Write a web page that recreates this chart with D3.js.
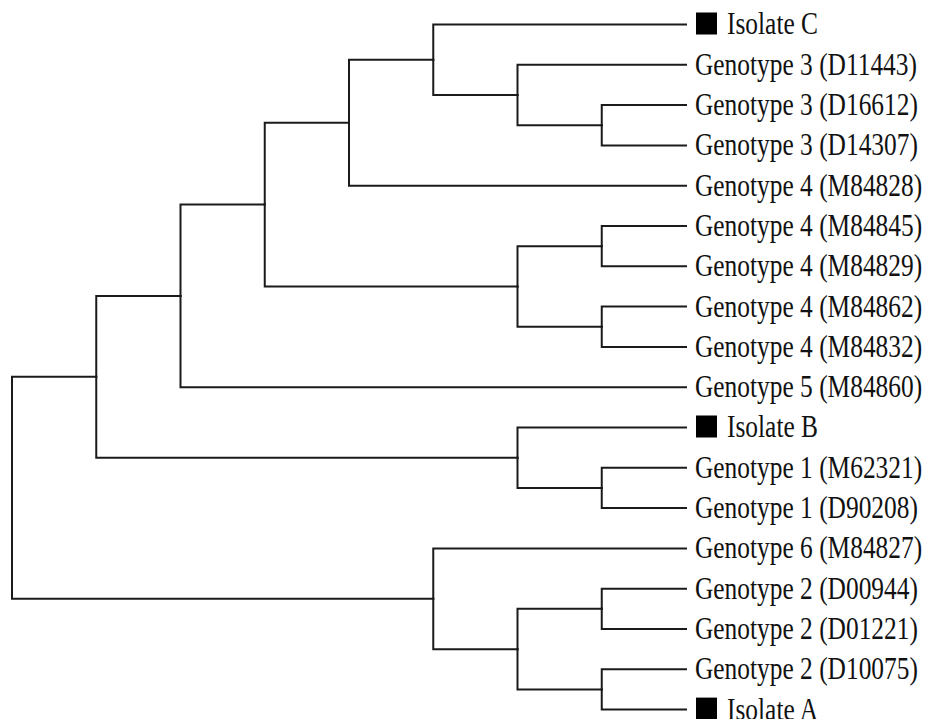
<!DOCTYPE html>
<html>
<head>
<meta charset="utf-8">
<script src="https://cdn.jsdelivr.net/npm/d3@7"></script>
<style>
  html, body { margin: 0; padding: 0; background: #fff; }
  svg { display: block; }
</style>
</head>
<body>
<svg></svg>
<script>
// leaf labels, top to bottom
const leafNames = [
  "Isolate C",
  "Genotype 3 (D11443)",
  "Genotype 3 (D16612)",
  "Genotype 3 (D14307)",
  "Genotype 4 (M84828)",
  "Genotype 4 (M84845)",
  "Genotype 4 (M84829)",
  "Genotype 4 (M84862)",
  "Genotype 4 (M84832)",
  "Genotype 5 (M84860)",
  "Isolate B",
  "Genotype 1 (M62321)",
  "Genotype 1 (D90208)",
  "Genotype 6 (M84827)",
  "Genotype 2 (D00944)",
  "Genotype 2 (D01221)",
  "Genotype 2 (D10075)",
  "Isolate A"
]

// samples marked with a black square
const isolates = ["Isolate A", "Isolate B", "Isolate C"]

// branching order, numbers are indices into leafNames
const treeShape = [
  [
    [
      [
        [[0, [1, [2, 3]]], 4],
        [[5, 6], [7, 8]]
      ],
      9
    ],
    [10, [11, 12]]
  ],
  [13, [[14, 15], [16, 17]]]
]

const svgWidth = 931
const svgHeight = 719
const margin = { top: 4.35, left: 12 }
const treeHeight = 725.4
const treeWidth = 674

const svg = d3.select('svg')
  .attr('width', svgWidth)
  .attr('height', svgHeight)

const g = svg.append('g')
  .attr('transform', 'translate(' + margin.left + ',' + margin.top + ')')

const root = d3.hierarchy(treeShape, d => Array.isArray(d) ? d : null)

d3.cluster()
  .size([treeHeight, treeWidth])
  .separation(() => 1)(root)

// elbow links
g.selectAll('path.link')
  .data(root.links())
  .join('path')
  .attr('class', 'link')
  .attr('fill', 'none')
  .attr('stroke', '#1b1b1b')
  .attr('stroke-width', 2)
  .attr('stroke-linecap', 'square')
  .attr('d', d => 'M' + d.source.y + ',' + d.source.x + 'V' + d.target.x + 'H' + d.target.y)

const leaves = g.selectAll('g.leaf')
  .data(root.leaves())
  .join('g')
  .attr('class', 'leaf')
  .attr('transform', d => 'translate(' + d.y + ',' + d.x + ')')

leaves.filter(d => isolates.includes(leafNames[d.data]))
  .append('rect')
  .attr('x', 10)
  .attr('y', -12)
  .attr('width', 21)
  .attr('height', 22)
  .attr('fill', '#000')

leaves.append('text')
  .attr('transform', d => 'translate(' + (isolates.includes(leafNames[d.data]) ? 41 : 9) + ',0) scale(0.82,1)')
  .attr('dy', '0.32em')
  .attr('font-family', '"Liberation Serif", "Times New Roman", serif')
  .attr('font-size', 31)
  .attr('fill', '#111')
  .text(d => leafNames[d.data])
</script>
</body>
</html>
